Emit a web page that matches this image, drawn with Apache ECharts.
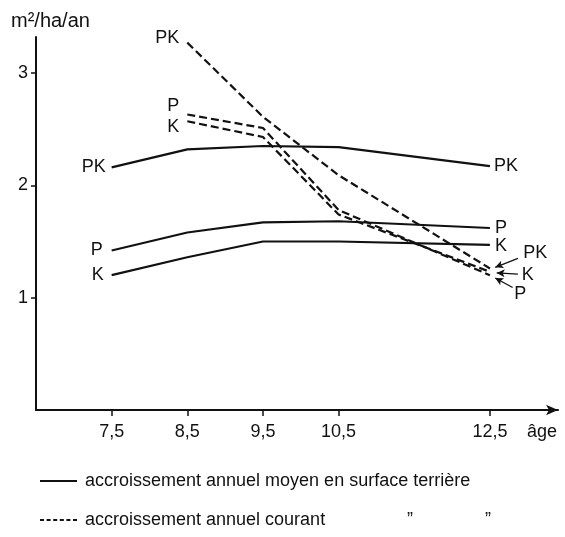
<!DOCTYPE html>
<html>
<head>
<meta charset="utf-8">
<script src="https://cdn.jsdelivr.net/npm/echarts@6/dist/echarts.min.js"></script>
<style>html,body{margin:0;padding:0;background:#fff}#c{width:565px;height:537px}</style>
</head>
<body>
<div id="c"></div>
<script>
// ---- data ----
const ages = [7.5, 8.5, 9.5, 10.5, 12.5];
const moyenPK = [2.16, 2.32, 2.35, 2.34, 2.17];
const moyenP = [1.42, 1.58, 1.67, 1.68, 1.62];
const moyenK = [1.20, 1.36, 1.50, 1.50, 1.47];
const courantAges = [8.5, 9.5, 10.5, 12.5];
const courantPK = [3.27, 2.61, 2.09, 1.26];
const courantP = [2.63, 2.51, 1.78, 1.20];
const courantK = [2.57, 2.43, 1.74, 1.23];
const yTicks = [1, 2, 3];
const legendMoyen = 'accroissement annuel moyen en surface terrière';
const legendCourant = 'accroissement annuel courant';

const FONT = 'Liberation Sans, Arial, sans-serif';
const FS = 18;
const BLACK = '#111';

function pts(xs, ys, startLab, endLab) {
  return xs.map((x, i) => {
    const item = { value: [x, ys[i]] };
    if (i === 0 && startLab) {
      item.label = Object.assign({ show: true, position: 'left', distance: 6, formatter: startLab.text,
        fontSize: FS, fontFamily: FONT, color: BLACK }, startLab.style || {});
    }
    if (i === xs.length - 1 && endLab) {
      item.label = Object.assign({ show: true, position: 'right', distance: 4, formatter: endLab.text,
        fontSize: FS, fontFamily: FONT, color: BLACK }, endLab.style || {});
    }
    return item;
  });
}

function line(name, data, dashed, extra) {
  return Object.assign({
    name: name, type: 'line', data: data, symbol: 'circle', symbolSize: 0.01, showSymbol: true,
    showAllSymbol: true, silent: true, animation: false,
    label: { show: false },
    lineStyle: { color: BLACK, width: 2.2, type: dashed ? [8, 4] : 'solid' },
    itemStyle: { color: BLACK }
  }, extra || {});
}

const arrowStyle = { color: BLACK, width: 1.3, type: 'solid' };
function arrow(from, to) { return [{ coord: from }, { coord: to }]; }
function tag(text, at) {
  return { coord: at, symbol: 'circle', symbolSize: 0, value: text,
    label: { show: true, position: 'inside', formatter: text, fontSize: FS, fontFamily: FONT, color: BLACK } };
}

const series = [
  line('mPK', pts(ages, moyenPK, { text: 'PK' }, { text: 'PK' }), false),
  line('mP', pts(ages, moyenP, { text: 'P', style: { distance: 9 } }, { text: 'P', style: { distance: 5 } }), false),
  line('mK', pts(ages, moyenK, { text: 'K', style: { distance: 8 } }, { text: 'K', style: { distance: 5, offset: [0, 1] } }), false),
  line('cPK', pts(courantAges, courantPK, { text: 'PK', style: { offset: [0, -5], distance: 8 } }, null), true, {
    markLine: { silent: true, symbol: ['none', 'arrow'], symbolSize: [6, 8], label: { show: false },
      lineStyle: arrowStyle, animation: false,
      data: [arrow([12.87, 1.35], [12.57, 1.27]), arrow([12.87, 1.21], [12.59, 1.22]), arrow([12.80, 1.09], [12.57, 1.175])] },
    markPoint: { silent: true, animation: false,
      data: [tag('PK', [13.1, 1.40]), tag('K', [13.0, 1.20]), tag('P', [12.9, 1.03])] }
  }),
  line('cP', pts(courantAges, courantP, { text: 'P', style: { offset: [0, -8], distance: 8 } }, null), true),
  line('cK', pts(courantAges, courantK, { text: 'K', style: { offset: [0, 6], distance: 8 } }, null), true),
  line(legendMoyen, [], false),
  line(legendCourant, [], true)
];

const dashIcon = 'path://M0,0h4v2h-4z M6.6,0h4v2h-4z M13.2,0h4v2h-4z M19.8,0h4v2h-4z M26.4,0h4v2h-4z M33,0h4v2h-4z';

const legendText = {
  fontSize: FS, fontFamily: FONT, color: BLACK, lineHeight: 20, padding: [0, 0, 0, 3],
  rich: {
    a: { fontSize: FS, fontFamily: FONT, color: BLACK, width: 322, lineHeight: 20 },
    b: { fontSize: FS, fontFamily: FONT, color: BLACK, width: 78, lineHeight: 20 },
    c: { fontSize: FS, fontFamily: FONT, color: BLACK, lineHeight: 20 }
  }
};

const chart = echarts.init(document.getElementById('c'), null, { renderer: 'canvas' });
chart.setOption({
  animation: false,
  backgroundColor: '#fff',
  textStyle: { fontFamily: FONT, color: BLACK },
  title: { text: 'm²/ha/an', left: 6, top: 6, textStyle: { fontSize: 20, fontWeight: 'normal', fontFamily: FONT, color: BLACK } },
  grid: { left: 36, right: 7, top: 37, bottom: 127, containLabel: false },
  xAxis: {
    type: 'value', min: 6.5, max: 13.4,
    splitLine: { show: false },
    axisLine: { show: true, lineStyle: { color: BLACK, width: 2 }, symbol: ['none', 'arrow'], symbolSize: [8, 12] },
    axisTick: { show: true, customValues: ages, length: 6, lineStyle: { color: BLACK, width: 1.5 } },
    axisLabel: { customValues: ages, formatter: v => String(v).replace('.', ','), fontSize: FS, fontFamily: FONT, color: BLACK, margin: 13 }
  },
  yAxis: {
    type: 'value', min: 0, max: 3.32,
    splitLine: { show: false },
    axisLine: { show: true, onZero: false, lineStyle: { color: BLACK, width: 2 } },
    axisTick: { show: true, customValues: yTicks, length: 5, lineStyle: { color: BLACK, width: 1.5 } },
    axisLabel: { customValues: yTicks, fontSize: FS, fontFamily: FONT, color: BLACK, margin: 8 }
  },
  legend: [
    {
      data: [{ name: legendMoyen, icon: 'rect' }],
      left: 40, top: 471, itemWidth: 37, itemHeight: 2, padding: 0,
      formatter: n => '{a|' + n + '}',
      textStyle: legendText, selectedMode: false
    },
    {
      data: [{ name: legendCourant, icon: dashIcon }],
      left: 40, top: 510, itemWidth: 37, itemHeight: 2, padding: 0,
      formatter: n => '{a|' + n + '}{b|”}{c|”}',
      textStyle: legendText, selectedMode: false
    }
  ],
  graphic: [
    { type: 'text', left: 527, top: 423, style: { text: 'âge', fontSize: FS, fontFamily: FONT, fill: BLACK } }
  ],
  series: series
});
</script>
</body>
</html>
